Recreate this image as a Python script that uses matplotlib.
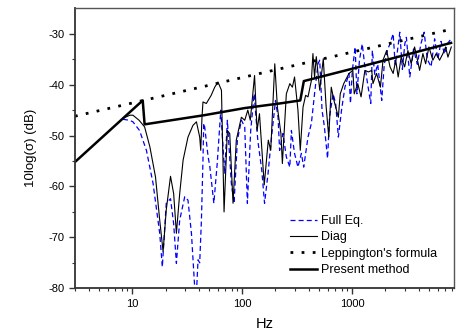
import matplotlib
matplotlib.use("Agg")
import matplotlib.pyplot as plt
from matplotlib.ticker import FixedLocator, NullFormatter, FuncFormatter

plt.rcParams["font.family"] = ["Liberation Sans", "DejaVu Sans"]
plt.rcParams["axes.unicode_minus"] = False

# ################ Data. ################ #
full_f = [8.2, 9.4, 10.1, 11.6, 13.4, 15.4, 17.7, 18.7, 20.3, 22.2, 23.7, 25.1, 26.9, 29.9, 32.0,
          34.4, 36.8, 38.0, 39.5, 40.9, 42.4, 43.8, 44.5, 45.4, 48.8, 50.5, 55, 59, 63.6, 66.6,
          69, 73, 79.3, 84, 90, 98, 105, 111, 119, 128, 138, 150, 159, 171, 184, 200, 211, 218,
          234, 251, 270, 279, 298, 320, 344, 361, 395, 424, 453, 487, 505, 530, 557, 595, 620,
          668, 705, 746, 797, 856, 932, 961, 1000, 1060, 1100, 1160, 1230, 1290, 1380, 1470,
          1520, 1600, 1700, 1850, 1950, 2100, 2200, 2350, 2450, 2550, 2700, 2850, 3000, 3100,
          3330, 3600, 3900, 4200, 4500, 4800, 5200, 5600, 6000, 6400, 6900, 7300, 7900]
full_db = [-46.8, -47.0, -47.3, -49.0, -52.9, -59.4, -69.2, -75.8, -63.3, -62.4, -67.3, -75.1, -66.6,
           -62.0, -62.7, -69.2, -79.7, -82.0, -74.4, -75.0, -66.6, -54.8, -47.6, -48.3, -54.2, -56.0,
           -63.3, -55.5, -45.0, -52.2, -57.5, -47.0, -59.4, -63.3, -50.9, -47.0, -48.3, -63.3, -49.0,
           -41.8, -50.9, -56.8, -63.3, -57.5, -50.3, -43.1, -46.4, -52.9, -49.6, -54.2, -56.2, -49.0,
           -53.5, -56.2, -53.5, -56.2, -50.3, -47.6, -41.8, -35.9, -35.2, -45.0, -48.3, -54.5, -46.4,
           -41.8, -43.7, -50.3, -45.0, -40.5, -37.8, -43.7, -37.2, -32.6, -41.8, -35.2, -32.0, -35.9,
           -40.0, -43.7, -33.3, -38.0, -36.0, -43.1, -36.0, -33.0, -32.0, -30.0, -36.0, -34.0, -29.7,
           -37.0, -32.0, -30.7, -38.5, -33.0, -36.0, -32.0, -29.7, -35.0, -36.5, -31.0, -35.0, -31.5,
           -34.0, -32.0, -31.0]

diag_f = [8.2, 9.5, 10.1, 11.5, 12.9, 14.4, 16.2, 17.7, 19.0, 20.3, 22.2, 23.7, 25.1, 26.9, 28.9,
          32.0, 35.5, 38.2, 40.9, 41.8, 42.9, 43.8, 47, 52, 56, 60, 64.5, 68.1, 73, 76.7, 82.2, 88,
          97.9, 105, 112, 118, 129, 136, 143, 158, 172, 181, 197, 208, 224, 231, 251, 270, 285, 298,
          320, 336, 356, 376, 395, 424, 438, 453, 470, 505, 544, 576, 610, 643, 680, 746, 776, 835,
          932, 1010, 1040, 1120, 1200, 1300, 1400, 1500, 1540, 1660, 1800, 1900, 2050, 2200, 2350,
          2480, 2610, 2780, 2990, 3200, 3430, 3680, 3860, 4090, 4380, 4640, 4970, 5400, 5790, 6210,
          6660, 7050, 7400, 7940]
diag_db = [-46.6, -46.0, -46.0, -47.0, -48.3, -52.2, -58.1, -66.6, -72.8, -64.6, -58.0, -61.4, -69.2,
           -61.4, -54.8, -50.3, -48.0, -47.3, -50.3, -52.9, -46.4, -43.4, -43.7, -42.1, -40.5, -39.5,
           -41.1, -65.0, -49.0, -49.6, -63.3, -50.9, -46.4, -47.0, -45.0, -47.0, -38.2, -49.0, -45.7,
           -59.7, -50.9, -52.9, -35.9, -44.4, -49.6, -55.5, -41.8, -39.8, -40.5, -38.5, -45.0, -52.9,
           -44.4, -42.1, -42.4, -39.2, -33.9, -38.5, -34.5, -41.1, -34.9, -44.0, -50.3, -40.5, -43.1,
           -46.4, -41.8, -39.8, -37.8, -37.2, -41.8, -39.8, -42.4, -37.2, -37.5, -37.2, -39.8, -37.8,
           -40.5, -35.2, -33.3, -36.5, -37.8, -35.2, -38.5, -34.6, -36.5, -33.3, -35.9, -32.6, -34.6,
           -37.2, -33.9, -35.9, -32.6, -35.2, -33.9, -35.2, -33.9, -32.6, -34.6, -32.6]

lepp_f = [3, 10, 100, 1000, 8000]
lepp_db = [-46.2, -43.6, -38.6, -33.6, -29.1]

present_f = [3, 12.4, 12.9, 45, 105, 218, 336, 362, 1500, 7900]
present_db = [-55.2, -43.1, -47.8, -46.0, -44.6, -43.7, -43.1, -39.3, -35.9, -31.8]

# ################ Plot. ################ #
fig = plt.figure(figsize=(4.57, 3.31), dpi=100)
ax = fig.add_axes([0.164, 0.129, 0.8294, 0.846])

ax.plot(full_f, full_db, color="#0000ff", lw=0.9, linestyle=(0, (4, 2.5)), label="Full Eq.")
ax.plot(diag_f, diag_db, color="black", lw=0.8, label="Diag")
ax.plot(lepp_f, lepp_db, color="black", lw=2.0, linestyle=(0, (1, 3)), label="Leppington's formula")
ax.plot(present_f, present_db, color="black", lw=1.8, label="Present method")

ax.set_xscale("log")
ax.set_xlim(3, 8400)
ax.set_ylim(-80, -25)

ax.xaxis.set_major_locator(FixedLocator([10, 100, 1000]))
ax.xaxis.set_major_formatter(FuncFormatter(lambda v, p: "%d" % v))
minors = [m * 10 ** e for e in range(0, 4) for m in range(2, 10)]
ax.xaxis.set_minor_locator(FixedLocator(minors))
ax.xaxis.set_minor_formatter(NullFormatter())
ax.yaxis.set_major_locator(FixedLocator([-80, -70, -60, -50, -40, -30]))
ax.yaxis.set_minor_locator(FixedLocator([-75, -65, -55, -45, -35]))

ax.tick_params(which="major", direction="out", length=4, width=1.0, labelsize=8, color="#333333")
ax.tick_params(which="minor", direction="out", length=2.5, width=0.8, color="#333333")
ax.tick_params(top=False, right=False, which="both")

for s in ["left", "bottom"]:
    ax.spines[s].set_linewidth(1.3)
    ax.spines[s].set_color("#333333")
for s in ["top", "right"]:
    ax.spines[s].set_linewidth(1.0)
    ax.spines[s].set_color("#555555")

ax.set_xlabel("Hz", fontsize=10.5, labelpad=6)
ax.set_ylabel("10log(σ) (dB)", fontsize=9.5, labelpad=8)

ax.legend(loc="upper left", bbox_to_anchor=(0.567, 0.262), frameon=False, fontsize=9,
          borderpad=0, borderaxespad=0, handlelength=2.2, handletextpad=0.3, labelspacing=0.35)

fig.savefig("out.png", dpi=100)
